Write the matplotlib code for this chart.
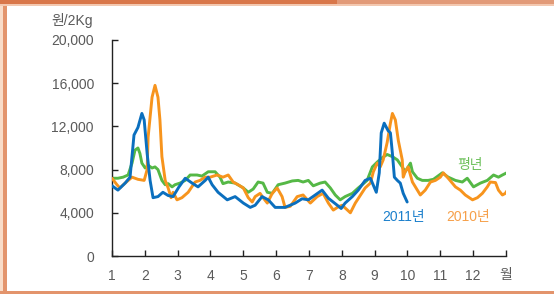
import matplotlib
matplotlib.use("Agg")
import matplotlib.pyplot as plt
import matplotlib.patches as patches

# 2011년 (blue), 월 위치 / 원
m_2011 = [1.00, 1.18, 1.40, 1.55, 1.67, 1.79, 1.91, 1.98, 2.07, 2.16, 2.25, 2.40, 2.55, 2.71, 2.86,
          3.04, 3.23, 3.44, 3.62, 3.84, 3.93, 4.05, 4.23, 4.51, 4.75, 5.00, 5.21, 5.36, 5.57, 5.76,
          5.97, 6.27, 6.58, 6.79, 6.98, 7.19, 7.40, 7.59, 7.86, 7.98, 8.10, 8.32, 8.50, 8.71, 8.87,
          9.05, 9.14, 9.20, 9.29, 9.41, 9.48, 9.54, 9.60, 9.69, 9.78, 9.87, 9.99]
v_2011 = [6500, 6100, 6750, 7300, 11200, 11900, 13200, 12600, 9500, 7000, 5400, 5500, 5900, 5600, 5500,
          6400, 7200, 6750, 6400, 7000, 7300, 6600, 5900, 5200, 5500, 4900, 4500, 4700, 5500, 5200,
          4500, 4500, 4900, 5300, 5200, 5650, 6100, 5350, 4700, 4400, 4900, 5500, 6100, 7000, 7200,
          5900, 7700, 11400, 12300, 11600, 11400, 9500, 7300, 7000, 6750, 5800, 5000]

# 2010년 (orange)
m_2010 = [1.00, 1.15, 1.24, 1.40, 1.61, 1.79, 1.98, 2.07, 2.10, 2.22, 2.31, 2.40, 2.46, 2.52, 2.62,
          2.71, 2.80, 2.86, 2.98, 3.13, 3.32, 3.53, 3.68, 3.84, 3.99, 4.20, 4.38, 4.54, 4.69, 4.84,
          5.00, 5.15, 5.27, 5.36, 5.51, 5.60, 5.73, 5.88, 6.03, 6.18, 6.27, 6.43, 6.64, 6.82, 7.04,
          7.25, 7.43, 7.59, 7.74, 7.89, 8.01, 8.10, 8.26, 8.41, 8.56, 8.71, 8.87, 8.96, 9.08, 9.17,
          9.26, 9.38, 9.48, 9.54, 9.63, 9.72, 9.78, 9.84, 9.87, 9.93, 10.02, 10.15, 10.24, 10.39, 10.54,
          10.70, 10.85, 11.00, 11.09, 11.24, 11.46, 11.61, 11.76, 11.98, 12.13, 12.28, 12.43, 12.52, 12.68,
          12.77, 12.89, 12.98, 13.02]
v_2010 = [7200, 6600, 6300, 6750, 7300, 7100, 7000, 8000, 11000, 14700, 15800, 14700, 12600, 9200, 7000,
          6300, 5400, 5900, 5200, 5400, 5900, 6850, 7000, 7300, 7300, 7500, 7300, 7500, 6850, 6600,
          6300, 5400, 5000, 5500, 5800, 5400, 4900, 5800, 6300, 5500, 4500, 4600, 5500, 5650, 4900,
          5500, 5800, 4900, 4250, 4550, 4700, 4450, 4000, 4900, 5600, 6300, 6750, 7800, 8600, 8250,
          8900, 10500, 12300, 13200, 12600, 10700, 9800, 8900, 7300, 7800, 8250, 6850, 6400, 5650, 6100,
          6850, 7000, 7300, 7700, 7200, 6400, 6100, 5650, 5200, 5400, 5800, 6400, 6850, 6800,
          6100, 5650, 5800, 6000]

# 평년 (green)
m_avg = [1.00, 1.18, 1.34, 1.49, 1.61, 1.70, 1.79, 1.85, 1.91, 2.01, 2.10, 2.22, 2.31, 2.40, 2.52,
         2.62, 2.71, 2.83, 2.92, 3.07, 3.23, 3.38, 3.59, 3.74, 3.93, 4.14, 4.29, 4.38, 4.54, 4.75,
         5.00, 5.15, 5.30, 5.45, 5.60, 5.73, 5.88, 6.06, 6.27, 6.49, 6.67, 6.82, 6.98, 7.13, 7.34,
         7.49, 7.65, 7.80, 7.95, 8.10, 8.32, 8.50, 8.62, 8.77, 8.93, 9.08, 9.23, 9.38, 9.54, 9.69,
         9.84, 9.93, 10.02, 10.09, 10.15, 10.30, 10.45, 10.63, 10.79, 11.06, 11.24, 11.46, 11.67, 11.82,
         12.01, 12.22, 12.43, 12.62, 12.77, 12.89, 13.02]
v_avg = [7200, 7200, 7300, 7500, 8600, 9800, 10000, 9500, 8600, 8150, 8400, 8150, 8250, 8000, 7000,
         6600, 6700, 6400, 6600, 6750, 7000, 7500, 7500, 7400, 7800, 7800, 7300, 6700, 6850, 6750,
         6300, 5900, 6200, 6850, 6750, 5900, 5800, 6600, 6750, 6950, 7000, 6850, 7000, 6500, 6750,
         6850, 6300, 5650, 5200, 5500, 5800, 6300, 6600, 7000, 8250, 8700, 9100, 9400, 9200, 8900,
         8250, 7800, 8250, 8600, 7800, 7200, 7000, 7000, 7100, 7700, 7300, 7000, 6850, 7200,
         6400, 6750, 7000, 7500, 7300, 7500, 7700]

x_ticks = list(range(1, 14))
x_labels = [str(i) for i in range(1, 13)] + ["월"]
y_ticks = [0, 4000, 8000, 12000, 16000, 20000]
y_labels = ["0", "4,000", "8,000", "12,000", "16,000", "20,000"]

FONT = ["Liberation Sans", "Noto Sans CJK KR", "DejaVu Sans"]
plt.rcParams["font.family"] = FONT

fig = plt.figure(figsize=(5.54, 2.94), dpi=100)
W, H = 554, 294
ax = fig.add_axes([112 / W, 1 - 256 / H, 394 / W, 216 / H])

line_kw = dict(lw=2.1, solid_joinstyle="round", solid_capstyle="round")
ax.plot(m_avg, v_avg, color="#55b846", zorder=2, **line_kw)
ax.plot(m_2010, v_2010, color="#f7941d", zorder=3, **line_kw)
ax.plot(m_2011, v_2011, color="#0b6fbe", zorder=4, **line_kw)

ax.set_xlim(1, 13)
ax.set_ylim(0, 20000)
ax.set_xticks(x_ticks)
ax.set_xticklabels(x_labels)
ax.set_yticks(y_ticks)
ax.set_yticklabels(y_labels)
for s in ["top", "right"]:
    ax.spines[s].set_visible(False)
for s in ["left", "bottom"]:
    ax.spines[s].set_color("#222222")
    ax.spines[s].set_linewidth(1.0)
ax.tick_params(axis="y", direction="in", length=4, width=1.0, color="#222222",
               pad=13, labelsize=10, labelcolor="#5a5a5a")
ax.tick_params(axis="x", direction="in", length=4, width=1.0, color="#222222",
               pad=9, labelsize=10, labelcolor="#5a5a5a")

ax.text(11.91, 8400, "평년", color="#6cc05a", fontsize=10, ha="center", va="center")
ax.text(9.87, 3600, "2011년", color="#1c80cc", fontsize=10, ha="center", va="center")
ax.text(11.85, 3600, "2010년", color="#f6a04a", fontsize=10, ha="center", va="center")

fig.text(93 / W, 1 - 21 / H, "원/2Kg", color="#5a5a5a", fontsize=10, ha="right", va="center")

# 테두리
fig.add_artist(patches.Rectangle((0, 0), 3 / W, 1, transform=fig.transFigure, fc="#f9dcc8", ec="none"))
fig.add_artist(patches.Rectangle((3 / W, 0), 4 / W, 1, transform=fig.transFigure, fc="#e3946c", ec="none"))
fig.add_artist(patches.Rectangle((0, 1 - 4 / H), 1, 4 / H, transform=fig.transFigure, fc="#e29a78", ec="none"))
fig.add_artist(patches.Rectangle((0, 1 - 4 / H), 337 / W, 4 / H, transform=fig.transFigure, fc="#d9774a", ec="none"))
fig.add_artist(patches.Rectangle((0, 1 - 6 / H), 1, 2 / H, transform=fig.transFigure, fc="#f3c8b0", ec="none"))
fig.add_artist(patches.Rectangle((0, 0), 1, 3 / H, transform=fig.transFigure, fc="#e3946c", ec="none"))

fig.savefig("out.png", dpi=100)
